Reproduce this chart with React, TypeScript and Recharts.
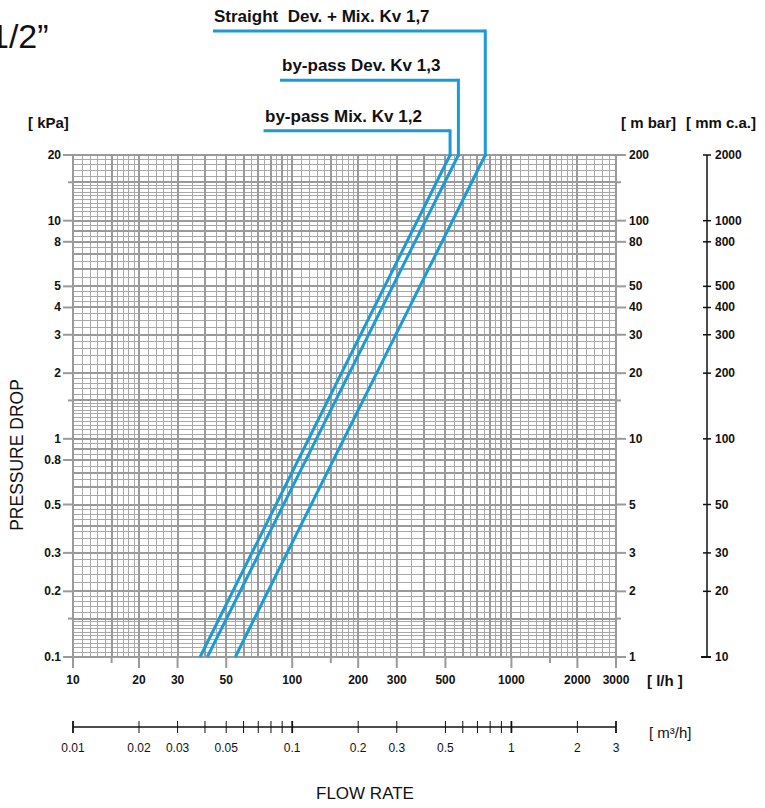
import React from "react";
import { LineChart, Line, XAxis, YAxis, CartesianGrid, ReferenceLine } from "recharts";

// flow rate [l/h] at the two ends of each curve, pressure drop [kPa] at those ends
const flowKv12 = [38, 525];
const flowKv13 = [41, 573];
const flowKv17 = [55, 760];
const dropEnds = [0.1, 20];

const seriesNames = ["by-pass Mix. Kv 1,2", "by-pass Dev. Kv 1,3", "Straight  Dev. + Mix. Kv 1,7"];
// leader lines: height above the grid (kPa scale) and left end (l/h scale)
const leaderTop = [25.8, 44, 74];
const leaderLeft = [74, 88, 43.5];

// ranges of the secondary scales (same paper, other units)
const m3Range = [0.01, 3];
const mbarRange = [1, 200];
const mmRange = [10, 2000];

// tick labels
const lhLabels = [10, 20, 30, 50, 100, 200, 300, 500, 1000, 2000, 3000];
const lhTicks = [10, 15, 20, 30, 50, 100, 150, 200, 300, 500, 1000, 1500, 2000, 3000];
const m3Labels = [0.01, 0.02, 0.03, 0.05, 0.1, 0.2, 0.3, 0.5, 1, 2, 3];
const m3Ticks = [0.01, 0.02, 0.03, 0.04, 0.05, 0.06, 0.07, 0.08, 0.09, 0.1, 0.2, 0.3, 0.5, 0.6, 0.7, 0.8, 0.9, 1, 2, 3];
const kpaLabels = [0.1, 0.2, 0.3, 0.5, 0.8, 1, 2, 3, 4, 5, 8, 10, 20];
const kpaTicks = [0.1, 0.15, 0.2, 0.3, 0.5, 0.8, 1, 1.5, 2, 3, 4, 5, 8, 10, 15, 20];
const mbarLabels = [1, 2, 3, 5, 10, 20, 30, 40, 50, 80, 100, 200];
const mbarTicks = [1, 1.5, 2, 3, 5, 10, 15, 20, 30, 40, 50, 80, 100, 150, 200];
const mmLabels = [10, 20, 30, 50, 100, 200, 300, 400, 500, 800, 1000, 2000];

// log paper subdivisions inside one decade
const xMajorMant = [1, 1.5, 2, 3, 4, 5, 6, 7, 8, 9];
const xMinorMant = [1.1, 1.2, 1.3, 1.4, 1.6, 1.7, 1.8, 1.9, 2.2, 2.4, 2.6, 2.8, 3.5, 4.5, 5.5, 6.5, 7.5, 8.5, 9.5];
const yMajorMant = [1, 1.5, 2, 3, 4, 5, 6, 7, 8, 9];
const yMinorMant = [
  1.05, 1.1, 1.15, 1.2, 1.25, 1.3, 1.35, 1.4, 1.45, 1.6, 1.7, 1.8, 1.9,
  2.2, 2.4, 2.6, 2.8, 3.25, 3.5, 3.75, 4.25, 4.5, 4.75, 5.5, 6.5, 7.5, 8.5, 9.5,
];

function spread(mants: number[], decades: number[], max: number) {
  const out: number[] = [];
  for (const d of decades) for (const m of mants) {
    const v = Number((m * d).toPrecision(6));
    if (v <= max) out.push(v);
  }
  return out;
}

const xMajor = spread(xMajorMant, [10, 100, 1000], 3000);
const xMinor = spread(xMinorMant, [10, 100, 1000], 3000);
const yMajor = spread(yMajorMant, [0.1, 1, 10], 20);
const yMinor = spread(yMinorMant, [0.1, 1, 10], 20);

const BLUE = "#1a9bd7";
const GRID = "#a8a8a8";
const GRID_DARK = "#9a9a9a";
const FONT = "'Liberation Sans', Arial, Helvetica, sans-serif";

const curves = [flowKv12, flowKv13, flowKv17].map((f) =>
  f.map((q, i) => ({ q, p: dropEnds[i] }))
);

// invisible carrier so the unit-only axes get a domain
const unitData = m3Range.map((m3, i) => ({ m3, mbar: mbarRange[i], mm: mmRange[i] }));

function LhTick(props: any) {
  const { x, y, payload } = props;
  const v = payload.value;
  const major = lhLabels.includes(v);
  return (
    <g>
      <line x1={x} x2={x} y1={y} y2={y + (major ? 11 : 6)} stroke={GRID_DARK} strokeWidth={2} />
      {major && (
        <text x={x} y={y + 27} textAnchor="middle" fontSize={12} fontWeight="bold" fill="#111" fontFamily={FONT}>
          {v}
        </text>
      )}
    </g>
  );
}

function M3Tick(props: any) {
  const { x, y, payload } = props;
  const v = payload.value;
  const strong = v === 0.1 || v === 1 || v === 0.01 || v === 3;
  return (
    <g>
      <line x1={x} x2={x} y1={y - 6} y2={y + 6} stroke="#111" strokeWidth={strong ? 1.8 : 1} />
      {m3Labels.includes(v) && (
        <text x={x} y={y + 25} textAnchor="middle" fontSize={12} fill="#111" fontFamily={FONT}>
          {v}
        </text>
      )}
    </g>
  );
}

function KpaTick(props: any) {
  const { x, y, payload } = props;
  const v = payload.value;
  const major = kpaLabels.includes(v);
  return (
    <g>
      <line x1={x - (major ? 10 : 5)} x2={x} y1={y} y2={y} stroke={GRID_DARK} strokeWidth={2} />
      {major && (
        <text x={x - 12} y={y + 4} textAnchor="end" fontSize={12} fontWeight="bold" fill="#111" fontFamily={FONT}>
          {v}
        </text>
      )}
    </g>
  );
}

function MbarTick(props: any) {
  const { x, y, payload } = props;
  const v = payload.value;
  const major = mbarLabels.includes(v);
  return (
    <g>
      <line x1={x} x2={x + (major ? 10 : 5)} y1={y} y2={y} stroke={GRID_DARK} strokeWidth={2} />
      {major && (
        <text x={x + 13} y={y + 4} fontSize={12} fontWeight="bold" fill="#111" fontFamily={FONT}>
          {v}
        </text>
      )}
    </g>
  );
}

function MmTick(props: any) {
  const { x, y, payload } = props;
  const v = payload.value;
  const end = v === 10;
  return (
    <g>
      <line x1={x - (end ? 6 : 4)} x2={x + 4} y1={y} y2={y} stroke="#111" strokeWidth={end ? 2 : 1.5} />
      <text x={x + 8} y={y + 4} fontSize={12} fontWeight="bold" fill="#111" fontFamily={FONT}>
        {v}
      </text>
    </g>
  );
}

export default function App() {
  return (
    <div
      style={{
        position: "absolute",
        left: 0,
        top: 0,
        width: 765,
        height: 808,
        overflow: "hidden",
        background: "#fff",
        fontFamily: FONT,
      }}
    >
      <LineChart width={765} height={808} margin={{ top: 155, right: 8, bottom: 21, left: 13 }}>
        <CartesianGrid
          verticalValues={xMinor}
          horizontalValues={yMinor}
          stroke={GRID}
          strokeWidth={1}
          shapeRendering="crispEdges"
        />
        <CartesianGrid
          verticalValues={xMajor}
          horizontalValues={yMajor}
          stroke={GRID_DARK}
          strokeWidth={2}
          shapeRendering="crispEdges"
        />
        <XAxis
          dataKey="q"
          type="number"
          scale="log"
          domain={[10, 3000]}
          ticks={lhTicks}
          interval={0}
          height={70}
          axisLine={false}
          tickLine={false}
          tickSize={0}
          tickMargin={0}
          tick={<LhTick />}
        />
        <XAxis
          xAxisId="m3"
          dataKey="m3"
          type="number"
          scale="log"
          domain={m3Range}
          ticks={m3Ticks}
          interval={0}
          height={60}
          axisLine={{ stroke: "#111", strokeWidth: 1.5 }}
          tickLine={false}
          tickSize={0}
          tickMargin={0}
          tick={<M3Tick />}
        />
        <YAxis
          type="number"
          scale="log"
          domain={[0.1, 20]}
          ticks={kpaTicks}
          interval={0}
          width={60}
          axisLine={false}
          tickLine={false}
          tickSize={0}
          tickMargin={0}
          tick={<KpaTick />}
        />
        <YAxis
          yAxisId="mbar"
          orientation="right"
          type="number"
          scale="log"
          domain={mbarRange}
          ticks={mbarTicks}
          interval={0}
          width={91}
          axisLine={false}
          tickLine={false}
          tickSize={0}
          tickMargin={0}
          tick={<MbarTick />}
        />
        <YAxis
          yAxisId="mm"
          orientation="right"
          type="number"
          scale="log"
          domain={mmRange}
          ticks={mmLabels}
          interval={0}
          width={50}
          axisLine={{ stroke: "#111", strokeWidth: 1.5 }}
          tickLine={false}
          tickSize={0}
          tickMargin={0}
          tick={<MmTick />}
        />
        <Line
          data={unitData}
          xAxisId="m3"
          yAxisId="mbar"
          dataKey="mbar"
          stroke="none"
          dot={false}
          activeDot={false}
          isAnimationActive={false}
        />
        <Line
          data={unitData}
          xAxisId="m3"
          yAxisId="mm"
          dataKey="mm"
          stroke="none"
          dot={false}
          activeDot={false}
          isAnimationActive={false}
        />
        {curves.map((d, i) => (
          <Line
            key={seriesNames[i]}
            data={d}
            dataKey="p"
            type="linear"
            stroke={BLUE}
            strokeWidth={3}
            dot={false}
            isAnimationActive={false}
          />
        ))}
        {curves.map((d, i) => (
          <ReferenceLine
            key={"v" + i}
            segment={[
              { x: d[1].q, y: d[1].p },
              { x: d[1].q, y: leaderTop[i] },
            ]}
            stroke={BLUE}
            strokeWidth={3}
            strokeLinecap="square"
            ifOverflow="visible"
          />
        ))}
        {curves.map((d, i) => (
          <ReferenceLine
            key={"h" + i}
            segment={[
              { x: leaderLeft[i], y: leaderTop[i] },
              { x: d[1].q, y: leaderTop[i] },
            ]}
            stroke={BLUE}
            strokeWidth={3}
            ifOverflow="visible"
          />
        ))}
      </LineChart>

      <svg
        width={765}
        height={808}
        style={{ position: "absolute", left: 0, top: 0, pointerEvents: "none" }}
        fontFamily={FONT}
      >
        <text x={-10} y={48} fontSize={34} fill="#111">1/2”</text>
        <text x={214} y={22} fontSize={17} fontWeight="bold" fill="#111" style={{ whiteSpace: "pre" }}>
          {seriesNames[2]}
        </text>
        <text x={282} y={71} fontSize={17} fontWeight="bold" fill="#111">{seriesNames[1]}</text>
        <text x={265} y={122} fontSize={17} fontWeight="bold" fill="#111">{seriesNames[0]}</text>
        <text x={28} y={128} fontSize={15} fontWeight="bold" fill="#111">[ kPa]</text>
        <text x={621} y={128} fontSize={15} fontWeight="bold" fill="#111">[ m bar]</text>
        <text x={686} y={128} fontSize={15} fontWeight="bold" fill="#111">[ mm c.a.]</text>
        <text x={647} y={686} fontSize={15} fontWeight="bold" fill="#111">[ l/h ]</text>
        <text x={649} y={738} fontSize={15} fill="#111">[ m³/h]</text>
        <text
          x={23}
          y={455}
          fontSize={17.5}
          fill="#111"
          textAnchor="middle"
          transform="rotate(-90 23 455)"
        >
          PRESSURE DROP
        </text>
        <text x={365} y={799} fontSize={17} fill="#111" textAnchor="middle">FLOW RATE</text>
      </svg>
    </div>
  );
}
